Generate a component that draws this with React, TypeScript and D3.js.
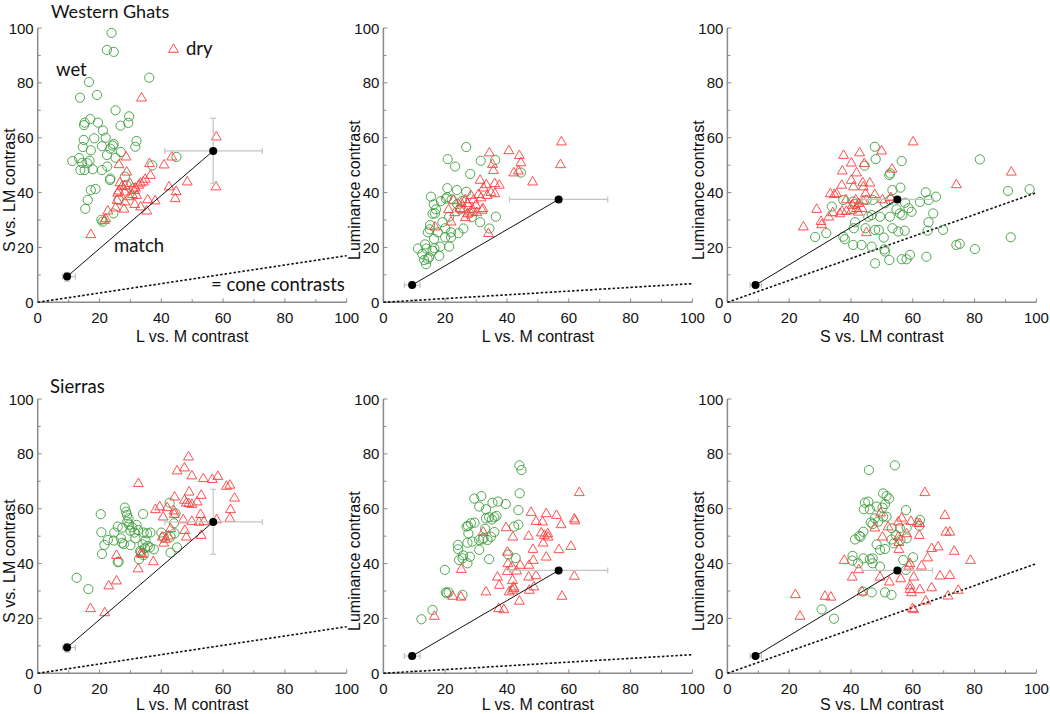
import React from "react";
import * as d3 from "d3";

// ---------- DATA ----------
// Western Ghats: S vs LM (y) against L vs M (x)
const ghatsA_wet: [number, number][] = [
  [23.9, 98.2], [22.4, 92.0], [24.6, 91.3], [36.1, 81.9], [16.6, 80.3], [13.7, 74.6], [19.2, 75.6],
  [25.2, 70.0], [29.6, 67.8], [17.0, 66.8], [15.2, 65.5], [15.0, 64.6], [19.5, 65.5], [26.8, 64.4],
  [29.3, 65.4], [21.1, 62.6], [14.9, 59.2], [18.3, 59.8], [22.0, 60.0], [24.6, 57.7], [24.3, 57.1],
  [17.2, 55.4], [14.6, 56.6], [20.8, 56.9], [32.0, 58.8], [31.6, 56.7], [23.5, 56.0], [22.4, 53.7],
  [26.9, 54.8], [11.2, 51.5], [13.4, 52.6], [14.4, 50.8], [16.1, 50.7], [16.8, 51.6], [25.2, 52.7],
  [37.1, 49.9], [15.2, 48.2], [17.8, 48.5], [20.8, 48.2], [22.5, 49.5], [23.5, 45.1], [28.2, 45.8],
  [13.8, 48.2], [17.2, 40.9], [18.7, 41.3], [16.2, 37.3], [15.4, 34.1], [26.2, 37.3], [21.0, 29.4],
  [24.5, 32.4], [28.8, 42.6], [31.1, 41.6], [44.9, 53.0], [23.4, 44.6], [20.6, 30.1],
];
const ghatsA_dry: [number, number][] = [
  [33.6, 74.6], [57.8, 60.4], [57.7, 42.2], [43.4, 53.1], [40.9, 50.2], [36.2, 50.7], [26.3, 50.3],
  [28.6, 53.1], [28.8, 47.6], [36.5, 46.4], [48.4, 44.0], [42.5, 42.2], [44.8, 40.5], [44.5, 37.9],
  [34.8, 45.0], [34.2, 44.0], [33.3, 43.6], [32.7, 42.8], [31.6, 41.8], [26.6, 43.7], [28.2, 42.6],
  [29.9, 43.4], [31.3, 40.9], [32.0, 39.1], [29.6, 38.6], [26.2, 40.7], [25.7, 37.3], [28.2, 36.7],
  [30.6, 39.4], [31.4, 35.8], [33.3, 34.9], [35.6, 37.5], [38.0, 37.1], [35.3, 33.4], [27.9, 34.1],
  [25.2, 34.5], [22.7, 33.4], [22.0, 30.6], [21.6, 30.0], [17.2, 24.8], [28.2, 40.3], [25.9, 39.9],
  [27.3, 42.4],
];
// Western Ghats: Luminance (y) against L vs M (x)
const ghatsB_wet: [number, number][] = [
  [26.8, 56.6], [20.8, 52.2], [23.2, 49.5], [31.5, 51.6], [36.2, 51.9], [28.1, 46.8], [44.5, 47.3],
  [20.7, 41.6], [23.8, 40.9], [26.8, 40.3], [20.2, 37.8], [22.1, 37.5], [18.6, 36.9], [15.4, 38.5],
  [16.3, 35.7], [17.0, 33.9], [15.9, 32.3], [16.7, 32.4], [23.9, 35.8], [25.4, 36.9], [24.8, 33.9],
  [27.8, 32.4], [28.6, 31.0], [36.4, 31.2], [31.3, 29.2], [34.3, 26.9], [25.9, 26.9], [24.3, 25.2],
  [21.9, 25.5], [19.1, 29.2], [15.1, 28.1], [15.0, 26.6], [14.4, 25.5], [17.6, 25.5], [16.4, 23.1],
  [20.0, 23.7], [21.9, 23.7], [20.0, 27.0], [18.4, 20.3], [21.3, 20.3], [13.5, 21.1], [11.2, 19.6],
  [13.9, 19.6], [18.1, 16.9], [16.5, 19.7], [13.2, 15.4], [14.3, 15.8], [14.8, 16.4], [13.8, 13.9],
  [15.9, 18.8], [12.6, 17.6], [20.6, 38.3], [21.3, 31.2],
];
const ghatsB_dry: [number, number][] = [
  [57.6, 58.6], [57.3, 50.3], [40.6, 55.4], [34.3, 54.6], [44.0, 53.6], [44.5, 51.0], [35.3, 50.4],
  [35.6, 48.2], [42.2, 47.3], [43.7, 48.0], [48.3, 44.0], [31.3, 44.6], [36.0, 43.4], [37.5, 42.8],
  [33.3, 43.0], [32.4, 41.8], [34.8, 40.2], [36.1, 39.7], [33.6, 39.1], [30.8, 39.4], [31.6, 38.2],
  [28.3, 39.1], [29.2, 37.5], [22.7, 37.3], [26.5, 37.5], [25.2, 36.3], [27.2, 36.1], [24.8, 34.3],
  [25.9, 33.9], [28.8, 34.1], [29.9, 35.5], [32.2, 34.3], [31.9, 33.7], [27.3, 32.4], [26.5, 31.0],
  [28.8, 33.0], [30.2, 32.8], [21.1, 33.9], [21.9, 29.4], [16.7, 27.6], [34.0, 25.2], [23.1, 32.8],
];
// Western Ghats: Luminance (y) against S vs LM (x)
const ghatsC_wet: [number, number][] = [
  [47.7, 56.7], [56.4, 51.5], [48.0, 52.2], [81.7, 52.1], [44.4, 49.8], [52.7, 47.0], [52.4, 46.4],
  [56.0, 41.8], [53.4, 40.9], [47.0, 37.3], [51.0, 36.1], [57.5, 36.3], [58.6, 34.3], [59.6, 33.0],
  [55.8, 32.4], [56.6, 31.8], [54.7, 33.9], [62.3, 36.6], [64.2, 40.1], [65.1, 37.3], [67.5, 38.5],
  [66.6, 32.4], [65.1, 29.2], [64.8, 26.1], [69.8, 26.4], [90.8, 40.6], [97.8, 41.2], [91.7, 23.7],
  [74.1, 20.9], [75.2, 21.3], [80.1, 19.4], [64.4, 16.6], [59.1, 17.3], [58.0, 15.7], [56.4, 15.7],
  [52.4, 15.4], [47.8, 14.2], [46.7, 20.3], [43.4, 20.9], [51.0, 18.5], [50.8, 19.3], [50.6, 23.6],
  [47.8, 26.4], [49.0, 26.4], [53.4, 27.0], [55.3, 25.8], [57.4, 26.1], [44.7, 27.0], [40.9, 27.0],
  [41.3, 29.2], [37.5, 23.9], [38.0, 23.0], [40.7, 20.9], [32.0, 25.2], [28.4, 23.8], [33.8, 34.9],
  [37.5, 37.3], [40.7, 36.7], [45.0, 37.3], [45.6, 31.2], [49.4, 31.2], [52.6, 31.2], [46.7, 31.8],
  [52.6, 37.3], [41.1, 35.8],
];
const ghatsC_dry: [number, number][] = [
  [60.1, 58.6], [49.9, 55.3], [42.8, 54.6], [37.6, 53.7], [40.1, 50.9], [44.3, 50.7], [53.3, 48.7],
  [37.2, 48.0], [41.8, 47.3], [40.1, 44.6], [43.8, 43.7], [46.1, 43.6], [37.0, 42.8], [40.8, 42.2],
  [44.0, 42.2], [33.3, 39.7], [34.6, 39.4], [35.3, 39.7], [44.7, 39.7], [47.7, 39.4], [50.2, 37.5],
  [52.9, 38.3], [41.5, 37.5], [38.4, 37.5], [43.9, 37.1], [42.5, 36.1], [40.4, 35.5], [41.8, 34.3],
  [43.6, 34.3], [37.1, 33.3], [38.5, 33.3], [34.1, 32.8], [32.8, 31.2], [28.9, 34.0], [30.3, 29.6],
  [30.5, 28.4], [24.6, 27.6], [45.0, 25.5], [74.1, 43.0], [91.9, 47.6], [40.2, 33.7], [36.4, 32.4],
  [42.3, 33.0],
];
// Sierras: S vs LM (y) against L vs M (x)
const sierraA_wet: [number, number][] = [
  [28.2, 60.4], [28.6, 58.9], [28.9, 57.7], [29.4, 56.5], [29.0, 55.3], [29.6, 54.2], [30.6, 53.2],
  [32.0, 54.1], [27.4, 53.1], [25.9, 53.5], [24.8, 51.3], [24.6, 48.4], [26.9, 49.2], [27.3, 47.6],
  [27.9, 47.1], [30.0, 46.7], [30.0, 52.0], [31.3, 51.3], [32.5, 52.2], [31.6, 49.2], [34.1, 58.1],
  [20.4, 58.0], [20.6, 51.4], [21.6, 46.8], [20.8, 43.5], [22.7, 48.6], [26.2, 40.7], [25.9, 40.5],
  [34.3, 51.3], [36.5, 51.3], [35.4, 51.0], [34.9, 48.4], [34.0, 47.0], [35.6, 46.4], [34.7, 45.6],
  [36.3, 45.9], [37.6, 45.2], [33.3, 44.0], [32.8, 41.6], [34.3, 43.1], [42.7, 62.2], [44.6, 58.3],
  [44.1, 54.7], [44.3, 51.0], [43.0, 49.8], [43.0, 44.0], [45.1, 45.9], [40.0, 51.3], [40.8, 49.6],
  [12.6, 34.8], [16.4, 30.7], [33.2, 44.6],
];
const sierraA_dry: [number, number][] = [
  [48.8, 79.0], [47.5, 75.0], [45.1, 73.9], [49.9, 72.1], [53.6, 71.1], [56.5, 70.8], [58.3, 71.9],
  [61.1, 68.3], [62.2, 68.7], [32.6, 69.3], [49.0, 66.2], [52.9, 65.0], [63.7, 64.0], [44.3, 64.4],
  [47.5, 63.2], [48.1, 62.2], [48.9, 62.0], [49.9, 61.7], [51.6, 62.6], [39.5, 60.8], [38.1, 59.8],
  [41.9, 60.5], [44.1, 59.3], [52.7, 58.0], [62.4, 59.8], [44.2, 58.1], [40.6, 57.1], [47.1, 56.1],
  [49.9, 55.5], [52.2, 55.2], [53.8, 55.4], [57.9, 56.1], [62.2, 56.6], [47.6, 52.2], [48.1, 49.8],
  [43.0, 52.9], [42.3, 50.2], [40.3, 49.8], [40.8, 47.6], [52.9, 50.4], [25.5, 43.1], [25.5, 33.8],
  [23.0, 32.0], [33.3, 43.7], [33.8, 43.5], [32.5, 38.2], [37.4, 40.8], [17.1, 23.7], [21.7, 22.2],
  [41.4, 49.0],
];
// Sierras: Luminance (y) against L vs M (x)
const sierraB_wet: [number, number][] = [
  [44.0, 75.8], [44.7, 74.1], [44.1, 65.6], [43.7, 59.5], [29.4, 63.7], [31.7, 64.6], [31.0, 60.8],
  [33.2, 59.8], [35.3, 62.2], [37.1, 62.6], [39.6, 61.7], [34.2, 56.9], [35.9, 56.9], [36.6, 57.4],
  [35.1, 56.1], [33.2, 56.5], [29.5, 54.9], [28.3, 54.7], [27.4, 53.7], [26.9, 53.5], [27.5, 51.0],
  [28.8, 48.0], [31.0, 48.6], [32.1, 48.8], [32.4, 49.3], [33.7, 48.6], [34.8, 49.8], [35.9, 51.5],
  [42.3, 53.5], [43.7, 54.2], [31.0, 45.0], [27.2, 47.6], [24.1, 46.8], [24.2, 45.2], [25.8, 43.0],
  [24.5, 41.3], [27.2, 40.1], [25.6, 41.9], [28.0, 42.5], [34.2, 41.6], [40.4, 43.3], [42.8, 42.0],
  [19.9, 37.7], [20.2, 29.5], [21.1, 29.5], [25.6, 28.6], [15.9, 23.1], [12.3, 19.7], [20.5, 29.2],
  [32.9, 52.7],
];
const sierraB_dry: [number, number][] = [
  [63.4, 66.0], [47.8, 58.8], [52.7, 58.3], [56.0, 57.7], [57.5, 54.3], [61.8, 56.4], [62.0, 55.7],
  [49.4, 55.5], [51.5, 55.3], [39.7, 53.2], [41.9, 49.8], [47.0, 50.1], [32.3, 51.6], [51.1, 51.3],
  [52.1, 50.4], [53.2, 51.0], [53.3, 49.8], [51.7, 47.6], [40.1, 44.3], [48.4, 45.3], [56.8, 45.2],
  [60.7, 46.4], [40.3, 40.1], [41.6, 38.9], [44.3, 39.5], [47.1, 39.5], [48.5, 41.3], [52.7, 42.5],
  [43.1, 37.4], [40.1, 37.2], [36.9, 35.2], [37.5, 32.2], [41.8, 34.0], [42.1, 31.6], [41.8, 30.4],
  [47.0, 35.2], [49.4, 35.7], [61.8, 35.5], [48.7, 31.6], [47.2, 30.4], [40.7, 29.8], [33.2, 29.8],
  [25.2, 38.0], [25.1, 27.9], [22.4, 28.2], [37.3, 23.7], [39.0, 23.3], [44.0, 26.4], [57.8, 28.2],
  [16.5, 20.9], [42.3, 31.0],
];
// Sierras: Luminance (y) against S vs LM (x)
const sierraC_wet: [number, number][] = [
  [54.2, 75.8], [45.8, 74.1], [50.4, 65.6], [51.5, 64.6], [52.3, 63.7], [44.5, 62.2], [45.6, 62.6],
  [46.1, 59.8], [44.2, 59.8], [48.3, 60.8], [50.2, 60.4], [51.0, 61.7], [57.8, 59.5], [50.4, 57.1],
  [51.5, 57.1], [47.7, 56.5], [46.4, 55.0], [47.0, 54.4], [48.8, 55.3], [44.0, 51.6], [42.7, 50.1],
  [43.1, 49.8], [41.3, 48.8], [42.3, 40.1], [53.2, 52.9], [54.5, 50.4], [53.1, 48.8], [53.9, 47.4],
  [58.0, 53.1], [58.0, 49.2], [48.3, 47.0], [51.0, 45.3], [49.4, 45.0], [62.1, 53.8], [62.3, 55.9],
  [44.0, 41.9], [47.0, 41.9], [47.0, 40.1], [40.5, 42.8], [40.4, 41.1], [46.1, 41.6], [49.4, 38.9],
  [60.1, 42.3], [57.8, 37.7], [56.9, 41.3], [43.8, 29.8], [46.7, 29.5], [51.0, 29.5], [53.1, 28.6],
  [30.5, 23.3], [34.5, 19.9], [55.8, 52.9], [56.0, 48.6],
];
const sierraC_dry: [number, number][] = [
  [63.9, 66.0], [70.4, 57.7], [49.6, 58.6], [56.4, 56.7], [55.3, 55.3], [59.4, 55.5], [61.4, 54.9],
  [62.2, 54.7], [52.0, 53.5], [47.7, 53.1], [72.0, 51.6], [70.7, 51.6], [62.1, 50.4], [50.2, 49.8],
  [58.0, 51.0], [55.3, 49.8], [55.5, 47.8], [55.5, 45.3], [66.1, 45.6], [68.2, 46.2], [64.8, 42.2],
  [73.4, 44.6], [78.7, 41.3], [37.8, 41.3], [42.5, 37.9], [40.4, 35.2], [49.4, 35.2], [52.4, 33.4],
  [56.1, 34.6], [60.3, 35.2], [62.8, 39.2], [68.8, 35.6], [72.0, 35.8], [59.1, 32.0], [59.1, 30.7],
  [59.6, 29.5], [62.3, 30.6], [66.1, 31.3], [74.7, 30.4], [71.4, 28.3], [64.2, 26.5], [59.9, 23.7],
  [60.3, 23.3], [43.6, 29.8], [31.6, 28.2], [33.5, 27.9], [22.0, 28.8], [23.5, 20.9], [58.7, 39.2],
  [59.1, 40.1],
];

// match points: [x, y, xlo, xhi, ylo, yhi]
const matchLM_S: number[][] = [
  [9.5, 9.4, 8.0, 12.2, 7.7, 10.9],
  [56.8, 55.2, 41.1, 72.7, 43.4, 67.1],
];
const matchLM_Lum: number[][] = [
  [9.3, 6.3, 6.8, 11.9, 5.8, 6.8],
  [56.7, 37.5, 40.8, 72.6, 37.0, 38.0],
];
const matchS_Lum: number[][] = [
  [9.1, 6.3, 7.3, 11.0, 5.8, 6.8],
  [55.0, 37.5, 43.5, 66.4, 37.0, 38.0],
];
// slope of the "cone contrasts" line (y at x = 100)
const coneEnd = [17.0, 6.8, 40.0];

const axisTicks = [0, 20, 40, 60, 80, 100];
const minorTicks = [10, 30, 50, 70, 90];
const xTitles = ["L vs. M contrast", "L vs. M contrast", "S vs. LM contrast"];
const yTitles = ["S vs. LM contrast", "Luminance contrast", "Luminance contrast"];

// ---------- LAYOUT ----------
const W = 1050, H = 714;
const colX = [37.7, 383.4, 727.4];
const PW = 309;
const rowY0 = [302.3, 673.3];
const PH = 274.3;

const GREEN = "#3c9c3c";
const RED = "#ff3b3b";
const AXIS = "#8a8a8a";
const TICKFONT = "'Liberation Sans', Arial, sans-serif";
const LABFONT = "Lato, 'Open Sans', sans-serif";

const triPath = d3.symbol().type(d3.symbolTriangle).size(42)() as string;

type PanelProps = {
  x0: number; y0: number; wet: [number, number][]; dry: [number, number][];
  match: number[][]; cone: number; xTitle: string; yTitle: string; titleDy: number;
};

function Panel({ x0, y0, wet, dry, match, cone, xTitle, yTitle, titleDy }: PanelProps) {
  const xs = d3.scaleLinear().domain([0, 100]).range([x0, x0 + PW]);
  const ys = d3.scaleLinear().domain([0, 100]).range([y0, y0 - PH]);
  const line = d3.line<number[]>().x((d) => xs(d[0])).y((d) => ys(d[1]));
  return (
    <g>
      {/* axes */}
      <line x1={xs(0)} x2={xs(100)} y1={ys(0)} y2={ys(0)} stroke={AXIS} strokeWidth={1.5} />
      <line x1={xs(0)} x2={xs(0)} y1={ys(0)} y2={ys(100)} stroke={AXIS} strokeWidth={1.5} />
      {axisTicks.map((t) => (
        <g key={"t" + t}>
          <line x1={xs(t)} x2={xs(t)} y1={ys(0)} y2={ys(0) - 4} stroke={AXIS} strokeWidth={1} />
          <line x1={xs(0)} x2={xs(0) + 4} y1={ys(t)} y2={ys(t)} stroke={AXIS} strokeWidth={1} />
          <text x={xs(t)} y={ys(0) + 21} textAnchor="middle" fontFamily={TICKFONT} fontSize={15} fill="#111">{t}</text>
          <text x={xs(0) - 4} y={ys(t) + 5.5} textAnchor="end" fontFamily={TICKFONT} fontSize={15} fill="#111">{t}</text>
        </g>
      ))}
      {minorTicks.map((t) => (
        <g key={"m" + t}>
          <line x1={xs(t)} x2={xs(t)} y1={ys(0)} y2={ys(0) - 3} stroke={AXIS} strokeWidth={1} />
          <line x1={xs(0)} x2={xs(0) + 3} y1={ys(t)} y2={ys(t)} stroke={AXIS} strokeWidth={1} />
        </g>
      ))}
      <text x={xs(50)} y={ys(0) + titleDy} textAnchor="middle" fontFamily={TICKFONT} fontSize={16} fill="#111">{xTitle}</text>
      <text transform={`translate(${xs(0) - 23},${ys(50) + 25}) rotate(-90)`} textAnchor="middle" fontFamily={TICKFONT} fontSize={16} fill="#111">{yTitle}</text>
      {/* cone contrast line */}
      <path d={line([[0, 0], [100, cone]]) as string} stroke="#111" strokeWidth={1.6} strokeDasharray="2.5,2" fill="none" />
      {/* wet */}
      {wet.map((d, i) => (
        <circle key={"w" + i} cx={xs(d[0])} cy={ys(d[1])} r={4.6} fill="none" stroke={GREEN} strokeWidth={0.9} />
      ))}
      {/* dry */}
      {dry.map((d, i) => (
        <path key={"d" + i} d={triPath} transform={`translate(${xs(d[0])},${ys(d[1]) + 0.5})`} fill="none" stroke={RED} strokeWidth={0.9} />
      ))}
      {/* error bars */}
      {match.map((m, i) => (
        <g key={"e" + i} stroke="#c4c4c4" strokeWidth={1.2}>
          <line x1={xs(m[2])} x2={xs(m[3])} y1={ys(m[1])} y2={ys(m[1])} />
          <line x1={xs(m[2])} x2={xs(m[2])} y1={ys(m[1]) - 3} y2={ys(m[1]) + 3} />
          <line x1={xs(m[3])} x2={xs(m[3])} y1={ys(m[1]) - 3} y2={ys(m[1]) + 3} />
          {m[5] - m[4] > 1.5 && (
            <g>
              <line x1={xs(m[0])} x2={xs(m[0])} y1={ys(m[4])} y2={ys(m[5])} />
              <line x1={xs(m[0]) - 3} x2={xs(m[0]) + 3} y1={ys(m[4])} y2={ys(m[4])} />
              <line x1={xs(m[0]) - 3} x2={xs(m[0]) + 3} y1={ys(m[5])} y2={ys(m[5])} />
            </g>
          )}
        </g>
      ))}
      <path d={line(match.map((m) => [m[0], m[1]])) as string} stroke="#111" strokeWidth={1} fill="none" />
      {match.map((m, i) => (
        <circle key={"b" + i} cx={xs(m[0])} cy={ys(m[1])} r={4} fill="#000" />
      ))}
    </g>
  );
}

export default function App() {
  const rows = [
    [ghatsA_wet, ghatsA_dry, ghatsB_wet, ghatsB_dry, ghatsC_wet, ghatsC_dry],
    [sierraA_wet, sierraA_dry, sierraB_wet, sierraB_dry, sierraC_wet, sierraC_dry],
  ];
  const matches = [matchLM_S, matchLM_Lum, matchS_Lum];
  return (
    <svg width={W} height={H} style={{ position: "absolute", left: 0, top: 0, background: "#fff" }}>
      <rect x={0} y={0} width={W} height={H} fill="#fff" />
      {rows.map((r, ri) =>
        [0, 1, 2].map((ci) => (
          <Panel
            key={ri + "-" + ci}
            x0={colX[ci]}
            y0={rowY0[ri]}
            wet={r[ci * 2]}
            dry={r[ci * 2 + 1]}
            match={matches[ci]}
            cone={coneEnd[ci]}
            xTitle={xTitles[ci]}
            yTitle={yTitles[ci]}
            titleDy={ri === 0 ? 40 : 36.5}
          />
        ))
      )}
      <text x={51} y={18} fontFamily={LABFONT} fontSize={18} fill="#111">Western Ghats</text>
      <text x={50} y={393} fontFamily={LABFONT} fontSize={18.5} fill="#111">Sierras</text>
      <text x={56} y={76} fontFamily={LABFONT} fontSize={18.5} fill="#111">wet</text>
      <path d={triPath} transform="translate(173.5,49.5)" fill="none" stroke={RED} strokeWidth={0.9} />
      <text x={186} y={55} fontFamily={LABFONT} fontSize={18.5} fill="#111">dry</text>
      <text x={114} y={252} fontFamily={LABFONT} fontSize={18.5} fill="#111">match</text>
      <text x={211} y={291} fontFamily={LABFONT} fontSize={18.5} fill="#111">= cone contrasts</text>
    </svg>
  );
}
